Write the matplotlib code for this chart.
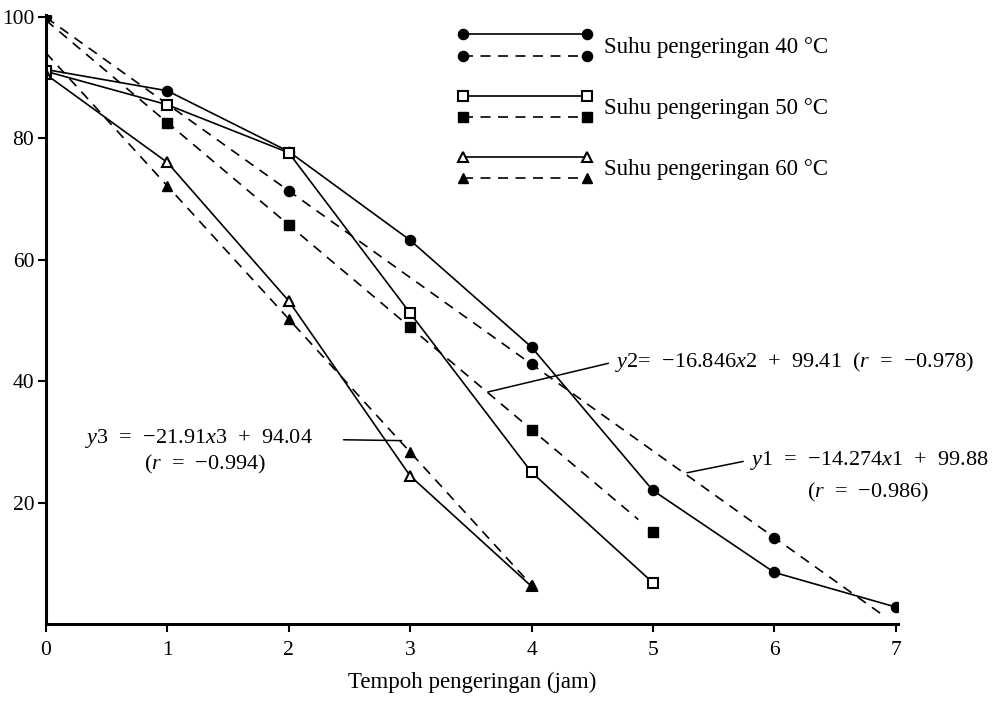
import numpy as np
import matplotlib
matplotlib.use('Agg')
from matplotlib import pyplot as plt
from matplotlib.lines import Line2D
from matplotlib.legend_handler import HandlerBase

plt.rcParams['font.family'] = ['Liberation Serif', 'DejaVu Serif']
plt.rcParams['mathtext.fontset'] = 'custom'
plt.rcParams['mathtext.rm'] = 'Liberation Serif'
plt.rcParams['mathtext.it'] = 'Liberation Serif:italic'

jam40 = [0, 1, 2, 3, 4, 5, 6, 7]
obs40 = [91.3, 87.8, 77.8, 63.2, 45.6, 22.0, 8.5, 2.8]
jam50 = [0, 1, 2, 3, 4, 5]
obs50 = [91.0, 85.5, 77.6, 51.2, 25.0, 6.8]
jam60 = [0, 1, 2, 3, 4]
obs60 = [90.5, 76.0, 53.2, 24.4, 6.2]

# regression lines printed on the chart
slopes = [-14.274, -16.846, -21.91]
intercepts = [99.88, 99.41, 94.04]
fit_end = [6.92, 4.88, 4.0]
fit_marks = [[0, 2, 4, 6], [1, 2, 3, 4, 5], [1, 2, 3, 4]]

labels = ['Suhu pengeringan 40 °C', 'Suhu pengeringan 50 °C', 'Suhu pengeringan 60 °C']
xticks = [0, 1, 2, 3, 4, 5, 6, 7]
yticks = [20, 40, 60, 80, 100]


class PairHandler(HandlerBase):
    """solid line above, dashed line below, in one legend entry"""
    def create_artists(self, legend, orig_handle, xdescent, ydescent,
                       width, height, fontsize, trans):
        top, bottom = orig_handle
        xs = [-xdescent, -xdescent + width]
        out = []
        for h, yy in ((top, height - ydescent), (bottom, -ydescent)):
            ln = Line2D(xs, [yy, yy])
            self.update_prop(ln, h, legend)
            ln.set_transform(trans)
            out.append(ln)
        return out


fig = plt.figure(figsize=(9.99, 7.01), dpi=100)
ax = fig.add_axes([0.046, 0.1098, 0.853, 0.869])

lw = 1.2
dash = (0, (6, 4.5))
styles = [
    dict(marker='o', ms=7.3, mfc='k', mec='k'),
    dict(marker='s', ms=6.5, mfc='white', mec='k', mew=1.5),
    dict(marker='^', ms=6.5, mfc='white', mec='k', mew=1.5),
]
fit_styles = [
    dict(marker='o', ms=7.3, mfc='k', mec='k'),
    dict(marker='s', ms=6.5, mfc='k', mec='k'),
    dict(marker='^', ms=7, mfc='k', mec='k'),
]

handles = []
for i, (xs, ys) in enumerate([(jam40, obs40), (jam50, obs50), (jam60, obs60)]):
    solid, = ax.plot(xs, ys, color='k', lw=lw, ls='-', **styles[i])
    p = [slopes[i], intercepts[i]]
    ax.plot([0, fit_end[i]], np.polyval(p, [0, fit_end[i]]), color='k', lw=lw, ls=dash)
    mx = np.array(fit_marks[i])
    ax.plot(mx, np.polyval(p, mx), ls='none', **fit_styles[i])
    proxy = Line2D([], [], color='k', lw=lw, ls=dash, **fit_styles[i])
    handles.append((solid, proxy))

ax.set_xlim(0, 7.02)
ax.set_ylim(0, 100.3)
ax.set_xticks(xticks)
ax.set_yticks(yticks)
ax.tick_params(labelsize=15.5, length=6, width=1.5, direction='out')
ax.tick_params(axis='y', pad=2.5)
ax.tick_params(axis='x', pad=6)
for s in ['top', 'right']:
    ax.spines[s].set_visible(False)
for s in ['left', 'bottom']:
    ax.spines[s].set_linewidth(2.2)
ax.set_xlabel('Tempoh pengeringan (jam)', fontsize=16.5, labelpad=9)

fig.legend(handles, labels, handler_map={tuple: PairHandler()},
           loc='upper left', bbox_to_anchor=(0.4635, 0.951), frameon=False,
           fontsize=16.5, handlelength=5.4, handleheight=1.05, handletextpad=0.75,
           labelspacing=1.65, borderpad=0, borderaxespad=0)

fs = 16
lead = dict(arrowstyle='-', lw=1.1, color='k', shrinkB=0)
ax.annotate('$\\mathit{y2}$=  \u221216.846$\\mathit{x2}$  +  99.41  ($\\mathit{r}$  =  \u22120.978)',
            xy=(3.64, 38.2), xytext=(4.69, 43.2), fontsize=fs, ha='left', va='center',
            arrowprops=dict(relpos=(0, 0.5), shrinkA=3, **lead))
ax.annotate('$\\mathit{y1}$  =  \u221214.274$\\mathit{x1}$  +  99.88',
            xy=(5.28, 24.9), xytext=(5.80, 27.0), fontsize=fs, ha='left', va='center',
            arrowprops=dict(relpos=(0, 0.5), shrinkA=3, **lead))
ax.text(6.77, 21.6, '($\\mathit{r}$  =  \u22120.986)', fontsize=fs, ha='center', va='center')
ax.annotate('$\\mathit{y3}$  =  \u221221.91$\\mathit{x3}$  +  94.04',
            xy=(2.93, 30.2), xytext=(2.2, 30.6), fontsize=fs, ha='right', va='center',
            arrowprops=dict(relpos=(1, 0.45), shrinkA=20, **lead))
ax.text(1.31, 26.2, '($\\mathit{r}$  =  \u22120.994)', fontsize=fs, ha='center', va='center')

plt.savefig('out.png', dpi=100)
